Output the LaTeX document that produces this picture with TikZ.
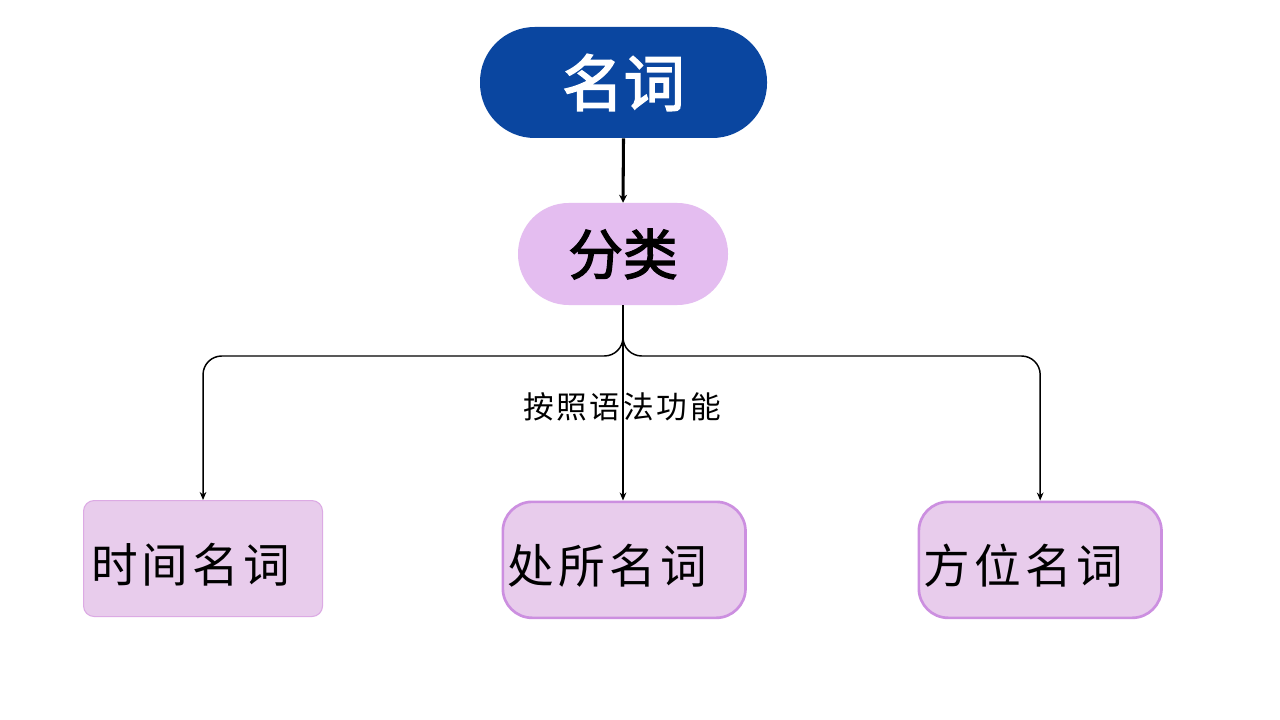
\documentclass[tikz,border=0pt]{standalone}
\usepackage{fontspec}
\usetikzlibrary{arrows.meta}
\newfontfamily\cjk{Noto Sans CJK SC}
\newfontfamily\cjkbold[FakeBold=2.5]{Noto Sans CJK SC}
\newfontfamily\cjkspaced[LetterSpace=9]{Noto Sans CJK SC}
\definecolor{topblue}{HTML}{0A46A0}
\definecolor{catfill}{HTML}{E4BDF0}
\definecolor{boxfill}{HTML}{E8CCEC}
\definecolor{boxline}{HTML}{DCAAE4}
\definecolor{boxlinedark}{HTML}{CC8FE0}
\newcommand{\leaftext}[1]{\raisebox{-5pt}[30pt][4pt]{#1}}
\tikzset{
  topbox/.style={fill=topblue, draw=none, minimum width=215.25pt, minimum height=83.25pt, rounded corners=41pt, text=white, font=\cjkbold\fontsize{46}{50}\selectfont, inner sep=0pt},
  catbox/.style={fill=catfill, draw=none, minimum width=157.5pt, minimum height=76.5pt, rounded corners=38pt, text=black, font=\cjkbold\fontsize{41}{45}\selectfont, inner sep=0pt},
  leafbase/.style={fill=boxfill, minimum height=87pt, text=black, font=\cjkspaced\fontsize{35}{40}\selectfont, inner ysep=0pt, align=left, anchor=north west},
  leafthin/.style={leafbase, draw=boxline, line width=0.8pt, rounded corners=8pt},
  leafthick/.style={leafbase, draw=boxlinedark, line width=2pt, rounded corners=22pt},
  conn/.style={draw=black, line width=1.1pt, -{Stealth[length=6pt,width=5pt]}},
  mainconn/.style={draw=black, line width=2.3pt, -{Stealth[length=6pt,width=6pt]}},
  lbl/.style={font=\cjkspaced\fontsize{23}{26}\selectfont, text=black, inner sep=0pt}
}
\begin{document}
\begin{tikzpicture}[x=0.75pt, y=-0.75pt]
\useasboundingbox[fill=white] (0,0) rectangle (1280,720);
\node[topbox] (noun) at (623.5,82.5) {名词};
\node[catbox] (cat) at (623,254) {分类};
\node[leafthin, minimum width=179.25pt, text width=168pt, inner xsep=5pt] (time) at (83,500) {\leaftext{时间名词}};
\node[leafthick, minimum width=182pt, text width=175pt, inner xsep=3pt] (place) at (501.5,500.5) {\leaftext{处所名词}};
\node[leafthick, minimum width=182pt, text width=175pt, inner xsep=3.5pt] (dir) at (917.5,500.5) {\leaftext{方位名词}};
\coordinate (junc) at (623,356);
\draw[mainconn] (noun.south) -- (cat.north);
\draw[conn, rounded corners=14pt] (cat.south) -- (junc) -| (time.north);
\draw[conn, rounded corners=14pt] (cat.south) -- (junc) -| (dir.north);
\draw[conn] (cat.south) -- (cat.south |- place.north);
\node[lbl] (crit) at (622,407) {按照语法功能};
\end{tikzpicture}
\end{document}
